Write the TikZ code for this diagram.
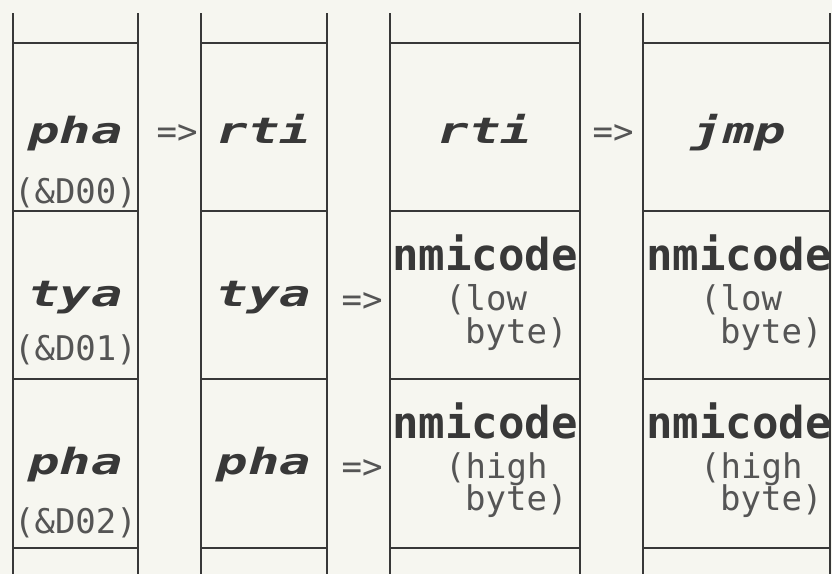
\documentclass[tikz,border=0pt]{standalone}
\usepackage{fontspec}
\newfontfamily\dotfont{DejaVu Sans Mono}
\definecolor{paper}{HTML}{F6F6F0}
\definecolor{ink}{HTML}{383838}
\definecolor{dots}{HTML}{555555}
\newcommand{\widen}[1]{\scalebox{1.45}[1]{#1}}

\begin{document}
\begin{tikzpicture}[
  x=1pt, y=-1pt,
  memline/.style={draw=ink, line width=2.8pt},
  opcode/.style={anchor=base, text=ink, inner sep=0pt,
                 font=\dotfont\bfseries\itshape\fontsize{36}{36}\selectfont},
  addr/.style={anchor=base, text=dots, inner sep=0pt,
               font=\dotfont\fontsize{34}{34}\selectfont},
  imp/.style={addr},
  code/.style={anchor=base, text=ink, inner sep=0pt,
               font=\dotfont\bfseries\fontsize{44}{44}\selectfont},
  part/.style={addr, anchor=base west}
]
\fill[paper] (0,0) rectangle (832,574);
\useasboundingbox (0,0) rectangle (832,574);

% four memory columns
\foreach \l/\r in {13/138, 201/327, 390/580, 643/830} {
  \draw[memline] (\l,13) -- (\l,574);
  \draw[memline] (\r,13) -- (\r,574);
  \foreach \y in {43,211,379,548}
    \draw[memline] (\l,\y) -- (\r,\y);
}

% column 1
\node[opcode] (pha0) at (75.5,143) {\widen{pha}};
\node[addr]   (adr0) at (75.5,203) {(\&D00)};
\node[opcode] (tya1) at (75.5,306) {\widen{tya}};
\node[addr]   (adr1) at (75.5,360) {(\&D01)};
\node[opcode] (pha2) at (75.5,474) {\widen{pha}};
\node[addr]   (adr2) at (75.5,533) {(\&D02)};

% column 2
\node[opcode] (rti0) at (264,143) {\widen{rti}};
\node[opcode] (tyb1) at (264,306) {\widen{tya}};
\node[opcode] (phb2) at (264,474) {\widen{pha}};

% column 3
\node[opcode] (rtc0) at (485,143) {\widen{rti}};
\node[code]   (nmc1) at (485,270) {nmicode};
\node[part]   (low3) at (445,310) {(low};
\node[part]   (byl3) at (465,343) {byte)};
\node[code]   (nmc2) at (485,438) {nmicode};
\node[part]   (hig3) at (445,478) {(high};
\node[part]   (byh3) at (465,510) {byte)};

% column 4
\node[opcode] (jmp0) at (739,143) {\widen{jmp}};
\node[code]   (nmd1) at (739,270) {nmicode};
\node[part]   (low4) at (700,310) {(low};
\node[part]   (byl4) at (720,343) {byte)};
\node[code]   (nmd2) at (739,438) {nmicode};
\node[part]   (hig4) at (700,478) {(high};
\node[part]   (byh4) at (720,510) {byte)};

% changes
\node[imp] (imp0) at (177,143) {=>};
\node[imp] (imp1) at (362,311) {=>};
\node[imp] (imp2) at (362,478) {=>};
\node[imp] (imp3) at (613,143) {=>};

\end{tikzpicture}
\end{document}
